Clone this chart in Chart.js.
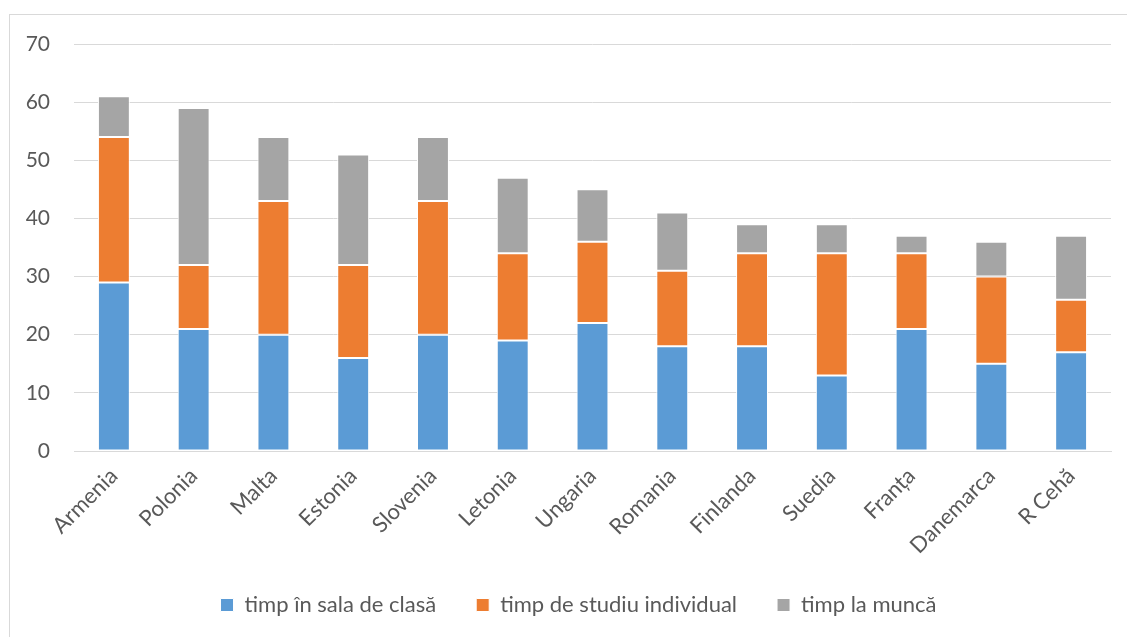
<!DOCTYPE html>
<html>
<head>
<meta charset="utf-8">
<script src="https://cdn.jsdelivr.net/npm/chart.js@4/dist/chart.umd.min.js"></script>
<style>
  body { margin: 0; background: #fff; }
  canvas { display: block; }
</style>
</head>
<body>
<canvas id="timeChart" width="1127" height="637"></canvas>
<script>
const countries = ['Armenia', 'Polonia', 'Malta', 'Estonia', 'Slovenia', 'Letonia', 'Ungaria',
    'Romania', 'Finlanda', 'Suedia', 'Franța', 'Danemarca', 'R Cehă'];

const classTime = [29, 21, 20, 16, 20, 19, 22, 18, 18, 13, 21, 15, 17];
const studyTime = [25, 11, 23, 16, 23, 15, 14, 13, 16, 21, 13, 15, 9];
const workTime = [7, 27, 11, 19, 11, 13, 9, 10, 5, 5, 3, 6, 11];

const seriesNames = ['timp în sala de clasă', 'timp de studiu individual', 'timp la muncă'];
const yTicks = [0, 10, 20, 30, 40, 50, 60, 70];

const fontFamily = 'Lato, "Open Sans", sans-serif';
const textColor = '#595959';

// frame round the whole chart, like the office export
const frame = {
    id: 'frame',
    beforeDraw(chart) {
        const ctx = chart.ctx;
        ctx.save();
        ctx.fillStyle = '#fff';
        ctx.fillRect(0, 0, chart.width, chart.height);
        ctx.strokeStyle = '#d9d9d9';
        ctx.lineWidth = 1;
        ctx.strokeRect(9.5, 14.5, 1130, 640);
        ctx.restore();
    }
};

// legend padding is wide for the horizontal gaps; trim the box below the items
// and centre it a little further right, as in the original
const legendBox = {
    id: 'legendBox',
    beforeLayout(chart) {
        const lg = chart.legend;
        if (lg && !lg._shortFit) {
            const fit = lg.fit.bind(lg);
            lg.fit = function () { fit(); this.height = 70; };
            lg._shortFit = true;
        }
    },
    afterLayout(chart) {
        if (chart.legend) chart.legend.left += 46;
    }
};

function barSet(label, data, color) {
    return {
        label: label,
        data: data,
        backgroundColor: color,
        borderColor: '#ffffff',
        borderWidth: 1,
        borderSkipped: false,
        barPercentage: 0.4,
        categoryPercentage: 1.0
    };
}

new Chart(document.getElementById('timeChart'), {
    type: 'bar',
    data: {
        labels: countries,
        datasets: [
            barSet(seriesNames[0], classTime, '#5b9bd5'),
            barSet(seriesNames[1], studyTime, '#ed7d31'),
            barSet(seriesNames[2], workTime, '#a5a5a5')
        ]
    },
    options: {
        responsive: false,
        animation: false,
        layout: { padding: { left: 0, right: 16, top: 44, bottom: 13 } },
        scales: {
            x: {
                stacked: true,
                grid: { display: false },
                border: { color: '#d9d9d9' },
                ticks: {
                    color: textColor,
                    font: { family: fontFamily, size: 22 },
                    minRotation: 45,
                    maxRotation: 45,
                    autoSkip: false,
                    padding: 4
                },
                afterFit(scale) { scale.height = 103; }
            },
            y: {
                stacked: true,
                min: 0,
                max: 70,
                afterBuildTicks(scale) {
                    scale.ticks = yTicks.map(v => ({ value: v }));
                },
                grid: { color: '#d9d9d9', lineWidth: 1, drawTicks: false },
                border: { display: false },
                ticks: {
                    color: textColor,
                    font: { family: fontFamily, size: 21 },
                    padding: 24
                },
                afterFit(scale) { scale.width = 74; }
            }
        },
        plugins: {
            legend: {
                position: 'bottom',
                labels: {
                    color: textColor,
                    font: { family: fontFamily, size: 22 },
                    boxWidth: 13,
                    boxHeight: 13,
                    padding: 40
                }
            },
            tooltip: { enabled: false }
        }
    },
    plugins: [frame, legendBox]
});
</script>
</body>
</html>
